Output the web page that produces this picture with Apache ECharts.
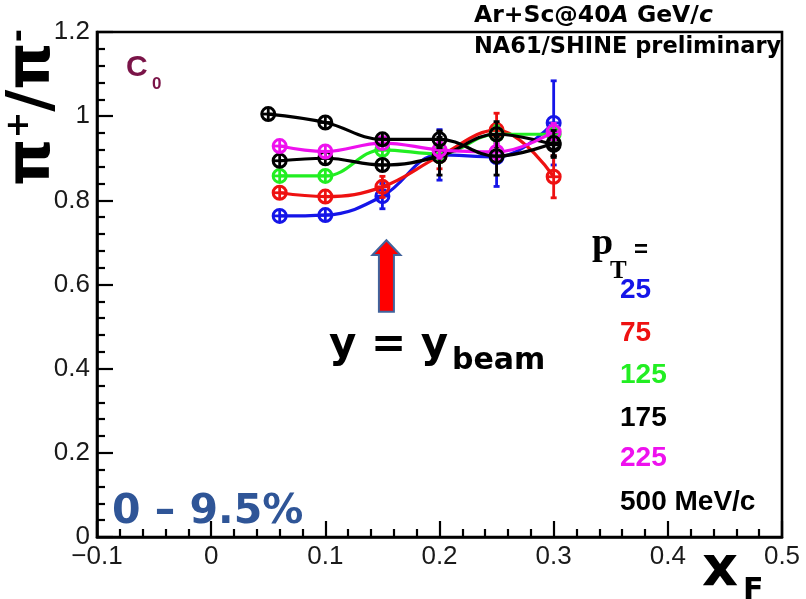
<!DOCTYPE html>
<html><head><meta charset="utf-8">
<script src="https://cdn.jsdelivr.net/npm/echarts@6/dist/echarts.min.js"></script>
<style>html,body{margin:0;padding:0;background:#fff}#c{width:806px;height:599px}</style>
</head><body><div id="c"></div>
<script>
// ---- data ----
const xF    = [0.06, 0.1, 0.15, 0.2, 0.25, 0.3];
const xF500 = [0.05, 0.1, 0.15, 0.2, 0.25, 0.3];
const pT25  = [0.763, 0.765, 0.810, 0.908, 0.903, 0.984];
const pT75  = [0.818, 0.809, 0.832, 0.905, 0.967, 0.856];
const pT125 = [0.858, 0.858, 0.920, 0.910, 0.957, 0.957];
const pT175 = [0.894, 0.900, 0.884, 0.905, 0.957, 0.932];
const pT225 = [0.929, 0.916, 0.936, 0.920, 0.915, 0.963];
const pT500 = [1.005, 0.985, 0.945, 0.945, 0.905, 0.936];
const err25  = [0.012, 0.012, 0.03, 0.06, 0.07, 0.10];
const err75  = [0.01, 0.01, 0.025, 0.03, 0.04, 0.05];
const err125 = [0.01, 0.01, 0.015, 0.02, 0.02, 0.02];
const err175 = [0.01, 0.01, 0.015, 0.045, 0.03, 0.03];
const err225 = [0.01, 0.01, 0.015, 0.02, 0.02, 0.02];
const err500 = [0.01, 0.01, 0.015, 0.02, 0.045, 0.03];
const legendLabels = ['25', '75', '125', '175', '225', '500 MeV/c'];
const xTicks = [-0.1, 0, 0.1, 0.2, 0.3, 0.4, 0.5];
const yTicks = [0, 0.2, 0.4, 0.6, 0.8, 1, 1.2];

const colors = ['#1515e8', '#ee1111', '#22ee22', '#000000', '#ee11ee', '#000000'];
const seriesDef = [
  {x: xF, y: pT25, e: err25},
  {x: xF, y: pT75, e: err75},
  {x: xF, y: pT125, e: err125},
  {x: xF, y: pT175, e: err175},
  {x: xF, y: pT225, e: err225},
  {x: xF500, y: pT500, e: err500}
];

const chart = echarts.init(document.getElementById('c'), null, {renderer: 'canvas'});
const fmt = v => { const n = Number(v.toFixed(2)); return n < 0 ? '\u2212' + Math.abs(n) : String(n); };

const series = [];
seriesDef.forEach((s, i) => {
  const pts = s.x.map((x, k) => [x, s.y[k], s.e[k]]);
  series.push({
    type: 'line', data: pts.map(p => [p[0], p[1]]), smooth: 0.4, showSymbol: false,
    lineStyle: {color: colors[i], width: 3.2}, z: 2 + i, silent: true
  });
  series.push({
    type: 'custom', data: pts, encode: {x: 0, y: 1}, z: 3 + i, silent: true,
    renderItem: function (params, api) {
      const x = api.value(0), y = api.value(1), e = api.value(2);
      const c = api.coord([x, y]), t = api.coord([x, y + e]), b = api.coord([x, y - e]);
      const r = 6.5, col = colors[i], st = {stroke: col, lineWidth: 2.8, fill: null};
      const ch = [];
      const top = Math.min(t[1], c[1] - r), bot = Math.max(b[1], c[1] + r);
      ch.push({type: 'line', shape: {x1: c[0], y1: top, x2: c[0], y2: bot}, style: st});
      ch.push({type: 'line', shape: {x1: c[0] - r, y1: c[1], x2: c[0] + r, y2: c[1]}, style: st});
      if (t[1] < c[1] - r) ch.push({type: 'line', shape: {x1: c[0] - 3, y1: t[1], x2: c[0] + 3, y2: t[1]}, style: st});
      if (b[1] > c[1] + r) ch.push({type: 'line', shape: {x1: c[0] - 3, y1: b[1], x2: c[0] + 3, y2: b[1]}, style: st});
      ch.push({type: 'circle', shape: {cx: c[0], cy: c[1], r: r}, style: {stroke: col, lineWidth: 3, fill: 'rgba(0,0,0,0)'}});
      return {type: 'group', children: ch};
    }
  });
});

const axisCommon = {
  type: 'value',
  axisLine: {show: true, onZero: false, lineStyle: {color: '#000', width: 2.6}},
  axisTick: {show: true, inside: true, length: 16, lineStyle: {color: '#000', width: 2.2}},
  minorTick: {show: true, splitNumber: 5, length: 8, lineStyle: {color: '#000', width: 2.2}},
  splitLine: {show: false},
  axisLabel: {fontFamily: 'Liberation Sans', fontSize: 26, color: '#1a1a1a', formatter: fmt}
};

chart.setOption({
  animation: false,
  backgroundColor: '#fff',
  grid: {left: 97, right: 24, top: 32, bottom: 62, show: true, borderColor: '#000', borderWidth: 2.6, backgroundColor: 'transparent'},
  xAxis: Object.assign({}, axisCommon, {min: xTicks[0], max: xTicks[xTicks.length - 1], interval: 0.1,
    axisLabel: Object.assign({}, axisCommon.axisLabel, {margin: 7})}),
  yAxis: Object.assign({}, axisCommon, {min: yTicks[0], max: yTicks[yTicks.length - 1], interval: 0.2,
    axisLabel: Object.assign({}, axisCommon.axisLabel, {margin: 7})}),
  series: series
});

// ---- annotations ----
const mctx = document.createElement('canvas').getContext('2d');
const tw = (t, f) => { mctx.font = f; return mctx.measureText(t).width; };

const piF = 'bold 60px "DejaVu Sans"', supF = 'bold 32px "DejaVu Sans"';
const titleParts = [['\u03c0', piF, 0], ['+', supF, -13], ['/', piF, 0], ['\u03c0', piF, 0], ['-', supF, -13]];
let lx = 0; const titleChildren = [];
titleParts.forEach(p => {
  titleChildren.push({type: 'text', x: lx, y: p[2], style: {text: p[0], font: p[1], fill: '#000', align: 'left', verticalAlign: 'middle'}});
  lx += tw(p[0], p[1]);
});

const arrowX = chart.convertToPixel({xAxisIndex: 0}, 0.1535);
const aTop = chart.convertToPixel({yAxisIndex: 0}, 0.705);
const aHead = chart.convertToPixel({yAxisIndex: 0}, 0.67);
const aBot = chart.convertToPixel({yAxisIndex: 0}, 0.535);

const legendY = [290, 333, 375, 418, 458, 502];
const legendChildren = legendLabels.map((t, i) => ({type: 'text', x: 620, y: legendY[i],
  style: {text: t, font: 'bold 28px "Liberation Sans"', fill: colors[i], align: 'left', verticalAlign: 'middle'}}));

const txt = (x, y, text, font, fill, extra) => ({type: 'text', x: x, y: y, z: 100,
  style: Object.assign({text: text, font: font, fill: fill, align: 'left', verticalAlign: 'middle'}, extra || {})});

chart.setOption({
  graphic: [
    {type: 'group', x: 33, y: 186, rotation: Math.PI / 2, children: titleChildren},
    txt(702, 570, 'x', 'bold 56px "DejaVu Sans"', '#000'),
    txt(743, 591, 'F', 'bold 30px "DejaVu Sans"', '#000'),
    {type: 'text', x: 474, y: 16, z: 100, style: {text: '{n|Ar+Sc@40}{i|A}{n| GeV/}{i|c}', align: 'left', verticalAlign: 'middle',
      rich: {n: {font: 'bold 23.5px "DejaVu Sans"', fill: '#000'}, i: {font: 'italic bold 23.5px "DejaVu Sans"', fill: '#000'}}}},
    txt(474, 47, 'NA61/SHINE preliminary', 'bold 22.5px "DejaVu Sans"', '#000'),
    txt(126, 68, 'C', 'bold 30px "Liberation Sans"', '#7a1448'),
    txt(152, 84, '0', 'bold 17px "Liberation Sans"', '#7a1448'),
    {type: 'polygon', z: 100, shape: {points: [
      [arrowX, aTop], [arrowX + 14, aHead], [arrowX + 7.5, aHead], [arrowX + 7.5, aBot],
      [arrowX - 7.5, aBot], [arrowX - 7.5, aHead], [arrowX - 14, aHead]]},
      style: {fill: '#ff0000', stroke: '#41639c', lineWidth: 2}},
    txt(329, 346, 'y = y', 'bold 42px "DejaVu Sans"', '#000'),
    txt(452, 361, 'beam', 'bold 30px "DejaVu Sans"', '#000'),
    txt(592, 244, 'p', 'bold 38px "Liberation Serif"', '#000'),
    txt(610, 272, 'T', 'bold 25px "Liberation Serif"', '#000'),
    txt(634, 250, '=', 'bold 24px "Liberation Sans"', '#000'),
    {type: 'group', children: legendChildren},
    txt(112, 512, '0 \u2013 9.5%', 'bold 41px "DejaVu Sans"', '#2f5597')
  ]
});
</script></body></html>
